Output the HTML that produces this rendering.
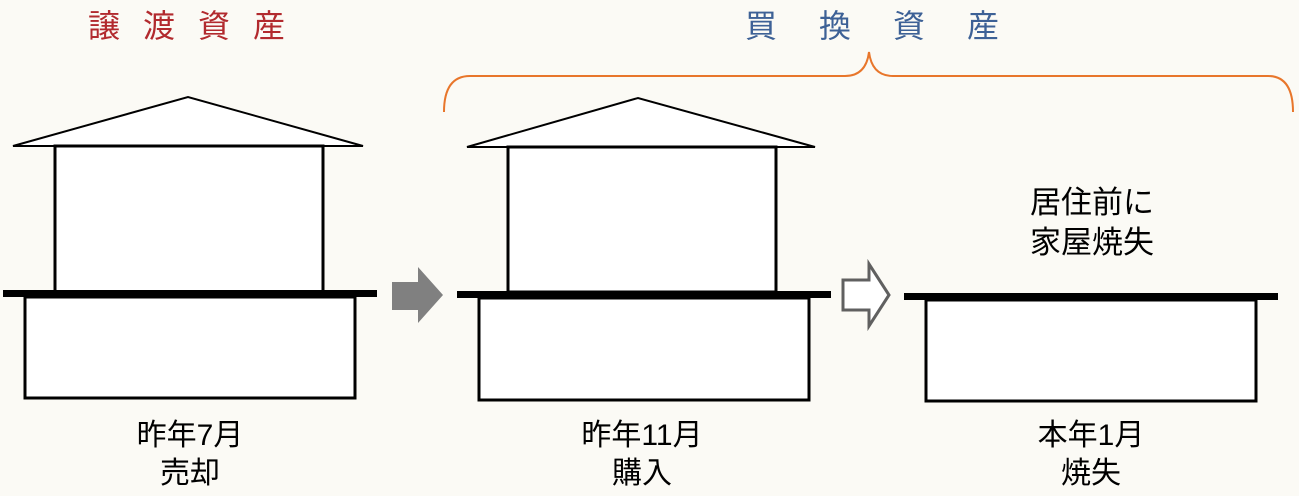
<!DOCTYPE html>
<html><head><meta charset="utf-8"><style>
html,body{margin:0;padding:0;background:#fbfaf5;}
svg{display:block}
text{font-family:"Liberation Sans","Noto Sans CJK JP",sans-serif;}
</style></head><body>
<svg width="1299" height="496" viewBox="0 0 1299 496" xmlns="http://www.w3.org/2000/svg">
<rect width="1299" height="496" fill="#fbfaf5"/>
<text x="88" y="37" font-size="32" fill="#b22a2e" letter-spacing="23">譲渡資産</text>
<text x="745" y="37" font-size="32" fill="#3d6196" letter-spacing="42">買換資産</text>
<path d="M444,112 Q444,76 470,76 L845,76 Q866,76 869,52 Q872,76 893,76 L1268,76 Q1293,76 1293,112" fill="none" stroke="#e8762b" stroke-width="2"/>
<polygon points="13,146 188,97 363,146" fill="#fff" stroke="#000" stroke-width="2"/>
<rect x="55" y="146" width="268" height="146" fill="#fff" stroke="#000" stroke-width="3"/>
<rect x="25" y="297" width="330" height="101" fill="#fff" stroke="#000" stroke-width="3"/>
<rect x="3" y="290" width="374" height="7" fill="#000"/>
<polygon points="392,282 418,282 418,267 443,295 418,323 418,310 392,310" fill="#808080"/>
<polygon points="467,147 638,98 815,147" fill="#fff" stroke="#000" stroke-width="2"/>
<rect x="508" y="147" width="268" height="145" fill="#fff" stroke="#000" stroke-width="3"/>
<rect x="479" y="298" width="330" height="102" fill="#fff" stroke="#000" stroke-width="3"/>
<rect x="457" y="291" width="374" height="7" fill="#000"/>
<polygon points="843,280 869,280 869,264 889,295 869,326 869,310 843,310" fill="#fff" stroke="#606060" stroke-width="3"/>
<rect x="926" y="300" width="330" height="101" fill="#fff" stroke="#000" stroke-width="3"/>
<rect x="904" y="293" width="374" height="7" fill="#000"/>
<text x="1092" y="213" font-size="31" fill="#000" text-anchor="middle">居住前に</text>
<text x="1092" y="253" font-size="31" fill="#000" text-anchor="middle">家屋焼失</text>
<text x="190" y="445" font-size="30" fill="#000" text-anchor="middle">昨年7月</text>
<text x="190" y="483" font-size="30" fill="#000" text-anchor="middle">売却</text>
<text x="642" y="445" font-size="30" fill="#000" text-anchor="middle">昨年11月</text>
<text x="642" y="483" font-size="30" fill="#000" text-anchor="middle">購入</text>
<text x="1091" y="445" font-size="30" fill="#000" text-anchor="middle">本年1月</text>
<text x="1091" y="483" font-size="30" fill="#000" text-anchor="middle">焼失</text>
</svg>
</body></html>
